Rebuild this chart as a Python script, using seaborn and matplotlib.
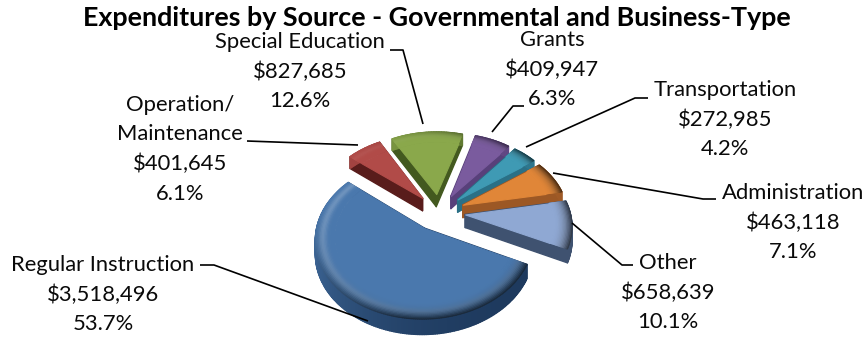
import numpy as np
import matplotlib
matplotlib.use("Agg")
import matplotlib.pyplot as plt
from matplotlib.collections import PolyCollection
from matplotlib.colors import to_rgb
import seaborn as sns

# Expenditure data, counter-clockwise from the largest slice
categories = ["Regular Instruction", "Other", "Administration", "Transportation",
              "Grants", "Special Education", "Operation/\nMaintenance"]
amounts = [3518496, 658639, 463118, 272985, 409947, 827685, 401645]
percents = [53.7, 10.1, 7.1, 4.2, 6.3, 12.6, 6.1]

top_colors = ["#4a78ad", "#8fa8d3", "#e08638", "#3f9ab4", "#7a5b9e", "#8aa84b", "#b14b48"]
wall_colors = ["#1e3a5e", "#3f5270", "#9c5825", "#2a7086", "#58407a", "#43591f", "#591c1b"]
rim_glow = [0.20, 0.10, 0.06, 0.06, 0.06, 0.05, 0.05]

TITLE = "Expenditures by Source - Governmental and Business-Type"

sns.set_theme(style="white")
plt.rcParams["font.family"] = ["Lato", "DejaVu Sans"]

# Pie geometry in figure pixels
CX, CY = 439, 212
RX, RY = 105, 74.5
TILT = 0.13
DEPTH = 13
EXPLODE = 0.25
START_DEG = 141
BEVEL = 0.17
LIGHT_DEG = 150


def project(u, v):
    s = 1 / (1 + TILT * v)
    return CX + RX * u * s, CY - RY * v * s, s


def mix(color, other, amount):
    c = np.array(to_rgb(color))
    return tuple(c + (np.array(to_rgb(other)) - c) * np.clip(amount, 0, 1))


def rim_color(base, t, theta, glow_level):
    """Shade of the rounded rim: t runs from the outer edge (0) to the flat top (1)."""
    d = np.cos(theta - np.radians(LIGHT_DEG))
    glow = glow_level * np.exp(-((t - 0.42) / 0.22) ** 2) * (0.75 + 0.25 * d)
    shade = 0.70 * (1 - t) ** 2.2 * np.clip((1 - d) / 1.4, 0, 1)
    return mix(mix(base, (1, 1, 1), glow), (0, 0, 0), shade)


def draw_slice(ax, a0, a1, top, wall, glow_level):
    mid = (a0 + a1) / 2
    ox, oy = EXPLODE * np.cos(mid), EXPLODE * np.sin(mid)
    arc = np.linspace(a0, a1, max(12, int(np.degrees(a1 - a0))))

    def xy(r, th):
        return project(r * np.cos(th) + ox, r * np.sin(th) + oy)

    # Side walls: the two radial cuts and the outer arc, pushed down by the depth
    polys, cols = [], []
    for th in (a0, a1):
        xo, yo, so = xy(1, th)
        xa, ya, sa = xy(0, th)
        polys.append([(xa, ya), (xo, yo), (xo, yo + DEPTH * so), (xa, ya + DEPTH * sa)])
        cols.append(to_rgb(wall))
    for t0, t1 in zip(arc[:-1], arc[1:]):
        x0, y0, s0 = xy(1, t0)
        x1, y1, s1 = xy(1, t1)
        polys.append([(x0, y0), (x1, y1), (x1, y1 + DEPTH * s1), (x0, y0 + DEPTH * s0)])
        d = np.cos((t0 + t1) / 2 - np.radians(LIGHT_DEG))
        cols.append(mix(wall, top, 0.85 * ((d + 1) / 2) ** 1.5))
    ax.add_collection(PolyCollection(polys, facecolors=cols, edgecolors=cols, linewidths=1.0))

    # Flat top
    pts = [xy(0, a0)[:2]] + [xy(1 - BEVEL, th)[:2] for th in arc]
    ax.add_collection(PolyCollection([pts], facecolors=[top], edgecolors=[top], linewidths=0.8))

    # Rounded rim built from thin ring segments, outermost ring first
    steps = 14
    polys, cols = [], []
    for i in range(steps):
        t = (i + 0.5) / steps
        r0 = 1 - BEVEL * i / steps
        r1 = 1 - BEVEL * (i + 1) / steps
        for t0, t1 in zip(arc[:-1], arc[1:]):
            polys.append([xy(r0, t0)[:2], xy(r0, t1)[:2], xy(r1, t1)[:2], xy(r1, t0)[:2]])
            cols.append(rim_color(top, t, (t0 + t1) / 2, glow_level))
    ax.add_collection(PolyCollection(polys, facecolors=cols, edgecolors=cols, linewidths=0.8))


fig = plt.figure(figsize=(8.67, 3.37), dpi=100)
ax = fig.add_axes([0, 0, 1, 1])
ax.set_xlim(0, 867)
ax.set_ylim(337, 0)
ax.axis("off")
sns.despine(ax=ax, left=True, bottom=True)

# Slice angles come straight from the dollar amounts
sweeps = 2 * np.pi * np.array(amounts) / np.sum(amounts)
ends = np.radians(START_DEG) + np.cumsum(sweeps)
starts = ends - sweeps

# Back slices first so the nearer ones overlap them
draw_order = [5, 4, 6, 3, 2, 1, 0]
for i in draw_order:
    draw_slice(ax, starts[i], ends[i], top_colors[i], wall_colors[i], rim_glow[i])

# Label anchors: centre x and first-line centre y, in pixels
anchors = [(103, 265), (668, 263), (793, 193), (725, 90), (552, 40), (300, 42), (180, 105)]
LINE_STEP = 29.5
FONT = 15.8
for name, amount, pct, (x, y) in zip(categories, amounts, percents, anchors):
    lines = name.split("\n") + [f"${amount:,}", f"{pct:.1f}%"]
    for k, line in enumerate(lines):
        ax.text(x, y + k * LINE_STEP, line, ha="center", va="center",
                fontsize=FONT, color="#0a0a0a")

leaders = [
    [(200, 265), (214, 265), (368, 321)],
    [(633, 265), (622, 265), (572, 223)],
    [(716, 199), (703, 199), (553, 173)],
    [(648, 98), (635, 98), (526, 147)],
    [(524, 106), (513, 106), (492, 132)],
    [(390, 50), (403, 50), (423, 124)],
    [(247, 141), (358, 145)],
]
for path in leaders:
    px, py = zip(*path)
    ax.plot(px, py, color="black", lw=1.2, solid_capstyle="butt")

ax.text(437, 18, TITLE, ha="center", va="center", fontsize=19.4,
        fontweight="bold", color="black")

fig.savefig("out.png", dpi=100)
